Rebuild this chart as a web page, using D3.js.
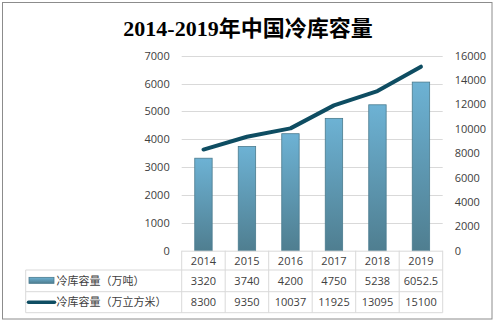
<!DOCTYPE html>
<html><head><meta charset="utf-8">
<script src="https://cdn.jsdelivr.net/npm/d3@7"></script>
<style>
html,body{margin:0;padding:0;background:#fff;}
svg text{font-family:"Open Sans","Noto Sans CJK SC",sans-serif;}
</style></head>
<body>
<script>
const years = ["2014","2015","2016","2017","2018","2019"];
const tons = [3320, 3740, 4200, 4750, 5238, 6052.5];
const cubic = [8300, 9350, 10037, 11925, 13095, 15100];
const tonLabels = ["3320","3740","4200","4750","5238","6052.5"];
const cubicLabels = ["8300","9350","10037","11925","13095","15100"];
const leftTicks = [0,1000,2000,3000,4000,5000,6000,7000];
const rightTicks = [0,2000,4000,6000,8000,10000,12000,14000,16000];
const seriesNames = ["冷库容量（万吨）","冷库容量（万立方米）"];
const title = "2014-2019年中国冷库容量";

(function(){
const W = 495, H = 323;
const svg = d3.select("body").append("svg").attr("width", W).attr("height", H);

const defs = svg.append("defs");
const grad = defs.append("linearGradient").attr("id","barGrad").attr("x1",0).attr("y1",0).attr("x2",0).attr("y2",1);
grad.append("stop").attr("offset","0%").attr("stop-color","#6db2d4");
grad.append("stop").attr("offset","100%").attr("stop-color","#4f7e90");

// outer border
svg.append("rect").attr("x",2.5).attr("y",2.5).attr("width",489.5).attr("height",316.5)
  .attr("fill","#fff").attr("stroke","#8c8c8c").attr("stroke-width",1);

// title
svg.append("text").attr("x",248).attr("y",35.5).attr("text-anchor","middle")
  .style("font-family",'"Liberation Serif","Noto Sans CJK SC",serif')
  .style("font-weight","bold").style("font-size","22px").attr("fill","#000").text(title);

const pL = 181.7, pR = 442.7, pT = 55.7, pB = 250.7;
const x = d3.scaleBand().domain(years).range([pL, pR]);
const yL = d3.scaleLinear().domain([0,7000]).range([pB, pT]);
const yR = d3.scaleLinear().domain([0,16000]).range([pB, pT]);

// gridlines
svg.append("g").selectAll("line").data(leftTicks.filter(d=>d>0)).join("line")
  .attr("x1",pL).attr("x2",pR).attr("y1",d=>Math.round(yL(d))+0.5).attr("y2",d=>Math.round(yL(d))+0.5)
  .attr("stroke","#d9d9d9").attr("stroke-width",1);

// left axis
const axL = svg.append("g").attr("transform",`translate(${pL},0)`)
  .call(d3.axisLeft(yL).tickValues(leftTicks).tickSize(0).tickPadding(12).tickFormat(d3.format("d")));
axL.select(".domain").remove();
axL.selectAll("text").style("font-size","11px").attr("fill","#404040").style("font-family",'"Open Sans",sans-serif');

// right axis
const axR = svg.append("g").attr("transform",`translate(${pR},0)`)
  .call(d3.axisRight(yR).tickValues(rightTicks).tickSize(0).tickPadding(12).tickFormat(d3.format("d")));
axR.select(".domain").remove();
axR.selectAll("text").style("font-size","11px").attr("fill","#404040").style("font-family",'"Open Sans",sans-serif');

// bars
const bw = x.bandwidth()*0.4;
svg.append("g").selectAll("rect").data(years).join("rect")
  .attr("x",(d)=>x(d)+x.bandwidth()/2-bw/2)
  .attr("y",(d,i)=>yL(tons[i]))
  .attr("width",bw)
  .attr("height",(d,i)=>pB-yL(tons[i]))
  .attr("fill","url(#barGrad)").attr("stroke","#4a7b8e").attr("stroke-width",0.8);

// line
const line = d3.line().x((d,i)=>x(years[i])+x.bandwidth()/2).y(d=>yR(d));
svg.append("path").datum(cubic).attr("d",line).attr("fill","none")
  .attr("stroke","#0e4d62").attr("stroke-width",4).attr("stroke-linejoin","round").attr("stroke-linecap","round");

// table
const tL = 25.7;
const rowY = [pB+1, 270, 291.7, 312.7];
const tg = svg.append("g");
const gridC = "#d9d9d9";
tg.append("line").attr("x1",pL).attr("x2",pR).attr("y1",pB+0.5).attr("y2",pB+0.5).attr("stroke",gridC);
[1,2,3].forEach(r=>{
  tg.append("line").attr("x1",tL).attr("x2",pR).attr("y1",rowY[r]).attr("y2",rowY[r]).attr("stroke",gridC);
});
tg.append("line").attr("x1",tL).attr("x2",tL).attr("y1",rowY[1]).attr("y2",rowY[3]).attr("stroke",gridC);
const colX = years.map(d=>x(d)).concat([pR]);
colX.forEach(cx=>{
  tg.append("line").attr("x1",cx).attr("x2",cx).attr("y1",pB).attr("y2",rowY[3]).attr("stroke",gridC);
});
tg.selectAll("text.yr").data(years).join("text").attr("class","yr")
  .attr("x",d=>x(d)+x.bandwidth()/2).attr("y",(rowY[0]+rowY[1])/2+4)
  .attr("text-anchor","middle").style("font-size","11px").attr("fill","#404040").text(d=>d);
tg.selectAll("text.t1").data(tonLabels).join("text").attr("class","t1")
  .attr("x",(d,i)=>x(years[i])+x.bandwidth()/2).attr("y",(rowY[1]+rowY[2])/2+4)
  .attr("text-anchor","middle").style("font-size","11px").attr("fill","#404040").text(d=>d);
tg.selectAll("text.t2").data(cubicLabels).join("text").attr("class","t2")
  .attr("x",(d,i)=>x(years[i])+x.bandwidth()/2).attr("y",(rowY[2]+rowY[3])/2+4)
  .attr("text-anchor","middle").style("font-size","11px").attr("fill","#404040").text(d=>d);
tg.append("rect").attr("x",29).attr("y",(rowY[1]+rowY[2])/2-3.5).attr("width",25).attr("height",6)
  .attr("fill","url(#barGrad)").attr("stroke","#4a7b8e").attr("stroke-width",0.8);
tg.append("line").attr("x1",28.5).attr("x2",54.5).attr("y1",(rowY[2]+rowY[3])/2).attr("y2",(rowY[2]+rowY[3])/2)
  .attr("stroke","#0e4d62").attr("stroke-width",3.5).attr("stroke-linecap","round");
tg.append("text").attr("x",56.5).attr("y",(rowY[1]+rowY[2])/2+4).style("font-size","11px").attr("fill","#404040").text(seriesNames[0]);
tg.append("text").attr("x",56.5).attr("y",(rowY[2]+rowY[3])/2+4).style("font-size","11px").attr("fill","#404040").text(seriesNames[1]);
})();
</script>
</body></html>
